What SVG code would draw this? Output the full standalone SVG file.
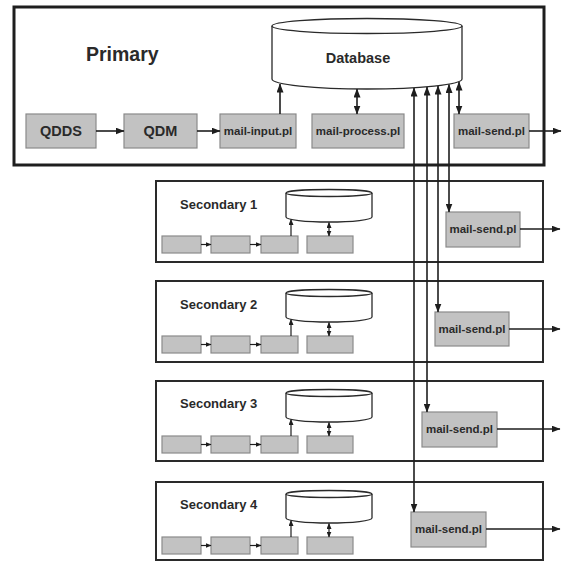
<svg xmlns="http://www.w3.org/2000/svg" width="567" height="562" viewBox="0 0 567 562">
  <defs>
    <style>
      .frame-main { fill: #ffffff; stroke: #1e1e1e; stroke-width: 3; }
      .frame { fill: #ffffff; stroke: #2a2a2a; stroke-width: 2; }
      .proc { fill: #c2c2c2; stroke: #8a8a8a; stroke-width: 1.2; }
      .db { fill: #ffffff; stroke: #2a2a2a; stroke-width: 1.3; }
      .link { fill: none; stroke: #1e1e1e; stroke-width: 1.6; }
      .link-sm { fill: none; stroke: #1e1e1e; stroke-width: 1.2; }
      .title { font-family: "Liberation Sans", Arial, sans-serif; font-weight: bold; fill: #2a2a2a; }
      .lbl { font-family: "Liberation Sans", Arial, sans-serif; font-weight: bold; font-size: 11.5px; fill: #2a2a2a; text-anchor: middle; }
    </style>
    <marker id="arrow" markerUnits="userSpaceOnUse" markerWidth="9" markerHeight="7" refX="8.5" refY="3.5" orient="auto-start-reverse">
      <path d="M0,0 L9,3.5 L0,7 z" fill="#1e1e1e"/>
    </marker>
    <marker id="arrow-sm" markerUnits="userSpaceOnUse" markerWidth="6" markerHeight="5" refX="5.5" refY="2.5" orient="auto-start-reverse">
      <path d="M0,0 L6,2.5 L0,5 z" fill="#1e1e1e"/>
    </marker>
    <!-- miniature site contents: four process boxes and a small database -->
    <g id="mini-site">
      <path class="db" d="M286,12 L286,36 A43,5 0 0 0 372,36 L372,12"/>
      <ellipse class="db" cx="329" cy="12" rx="43" ry="3.5"/>
      <rect class="proc" x="162" y="55" width="39" height="17"/>
      <rect class="proc" x="211" y="55" width="39" height="17"/>
      <rect class="proc" x="261" y="55" width="37" height="17"/>
      <rect class="proc" x="307" y="55" width="46" height="17"/>
      <line class="link-sm" x1="201" y1="63.5" x2="211" y2="63.5" marker-end="url(#arrow-sm)"/>
      <line class="link-sm" x1="250" y1="63.5" x2="261" y2="63.5" marker-end="url(#arrow-sm)"/>
      <line class="link-sm" x1="291" y1="55" x2="291" y2="38.5" marker-end="url(#arrow-sm)"/>
      <line class="link-sm" x1="329" y1="41.5" x2="329" y2="55" marker-start="url(#arrow-sm)" marker-end="url(#arrow-sm)"/>
    </g>
  </defs>

  <rect x="0" y="0" width="567" height="562" fill="#ffffff"/>

  <!-- Primary site -->
  <g id="primary">
    <rect class="frame-main" x="14" y="7" width="530" height="158"/>
    <text class="title" x="86" y="61" font-size="19.5">Primary</text>
  </g>
  <g id="database">
    <path class="db" d="M272,26 L272,79 A95,10 0 0 0 462,79 L462,26"/>
    <ellipse class="db" cx="367" cy="26" rx="95" ry="7.5"/>
    <text class="title" x="358" y="63" font-size="14.5" text-anchor="middle">Database</text>
  </g>
  <g id="qdds">
    <rect class="proc" x="26" y="114" width="70" height="34"/>
    <text class="lbl" x="61" y="136" style="font-size:14.5px">QDDS</text>
  </g>
  <g id="qdm">
    <rect class="proc" x="124" y="114" width="73" height="34"/>
    <text class="lbl" x="160.5" y="136" style="font-size:14.5px">QDM</text>
  </g>
  <g id="mail-input">
    <rect class="proc" x="220" y="114" width="76" height="34"/>
    <text class="lbl" x="258" y="135">mail-input.pl</text>
  </g>
  <g id="mail-process">
    <rect class="proc" x="312" y="114" width="92" height="34"/>
    <text class="lbl" x="358" y="135">mail-process.pl</text>
  </g>
  <g id="mail-send-primary">
    <rect class="proc" x="454" y="114" width="75" height="34"/>
    <text class="lbl" x="491.5" y="135">mail-send.pl</text>
  </g>

  <!-- Secondary sites -->
  <g id="secondary-1">
    <rect class="frame" x="156" y="181" width="387" height="81"/>
    <text class="title" x="180" y="209" font-size="13">Secondary 1</text>
    <use href="#mini-site" transform="translate(0,181)"/>
    <rect class="proc" x="446" y="212" width="74" height="35"/>
    <text class="lbl" x="483" y="233">mail-send.pl</text>
  </g>
  <g id="secondary-2">
    <rect class="frame" x="156" y="281" width="387" height="81"/>
    <text class="title" x="180" y="309" font-size="13">Secondary 2</text>
    <use href="#mini-site" transform="translate(0,281)"/>
    <rect class="proc" x="435" y="312" width="74" height="34"/>
    <text class="lbl" x="472" y="333">mail-send.pl</text>
  </g>
  <g id="secondary-3">
    <rect class="frame" x="156" y="381" width="387" height="80"/>
    <text class="title" x="180" y="408" font-size="13">Secondary 3</text>
    <use href="#mini-site" transform="translate(0,381)"/>
    <rect class="proc" x="422" y="412" width="75" height="35"/>
    <text class="lbl" x="459.5" y="433">mail-send.pl</text>
  </g>
  <g id="secondary-4">
    <rect class="frame" x="156" y="482" width="387" height="78"/>
    <text class="title" x="180" y="509" font-size="13">Secondary 4</text>
    <use href="#mini-site" transform="translate(0,482)"/>
    <rect class="proc" x="411" y="512" width="75" height="35"/>
    <text class="lbl" x="448.5" y="533">mail-send.pl</text>
  </g>

  <!-- Connectors -->
  <g id="connectors">
    <line class="link" x1="96" y1="131" x2="124" y2="131" marker-end="url(#arrow)"/>
    <line class="link" x1="197" y1="131" x2="220" y2="131" marker-end="url(#arrow)"/>
    <line class="link" x1="280" y1="114" x2="280" y2="84" marker-end="url(#arrow)"/>
    <line class="link" x1="357" y1="89" x2="357" y2="114" marker-start="url(#arrow)" marker-end="url(#arrow)"/>
    <line class="link" x1="459" y1="82" x2="459" y2="114" marker-start="url(#arrow)" marker-end="url(#arrow)"/>
    <line class="link" x1="529" y1="131" x2="561" y2="131" marker-end="url(#arrow)"/>

    <line class="link" x1="449" y1="84.5" x2="449" y2="212" marker-start="url(#arrow)" marker-end="url(#arrow)"/>
    <line class="link" x1="438" y1="86" x2="438" y2="312" marker-start="url(#arrow)" marker-end="url(#arrow)"/>
    <line class="link" x1="427" y1="87" x2="427" y2="412" marker-start="url(#arrow)" marker-end="url(#arrow)"/>
    <line class="link" x1="414" y1="88" x2="414" y2="512" marker-start="url(#arrow)" marker-end="url(#arrow)"/>

    <line class="link" x1="520" y1="229" x2="560" y2="229" marker-end="url(#arrow)"/>
    <line class="link" x1="509" y1="329" x2="560" y2="329" marker-end="url(#arrow)"/>
    <line class="link" x1="497" y1="429" x2="560" y2="429" marker-end="url(#arrow)"/>
    <line class="link" x1="486" y1="529" x2="560" y2="529" marker-end="url(#arrow)"/>
  </g>
</svg>
